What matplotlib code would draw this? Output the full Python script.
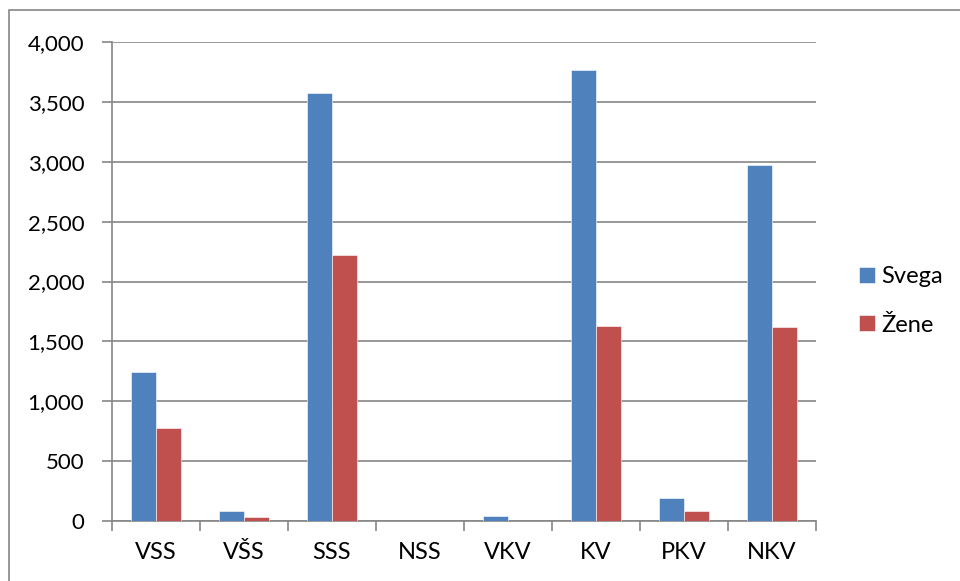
import numpy as np
import matplotlib.pyplot as plt
from matplotlib.patches import Rectangle
from matplotlib.ticker import FuncFormatter

plt.rcParams['font.family'] = ['Lato', 'DejaVu Sans']

categories = ['VSS', 'VŠS', 'SSS', 'NSS', 'VKV', 'KV', 'PKV', 'NKV']
svega = [1245, 80, 3575, 0, 45, 3770, 190, 2975]
zene = [775, 35, 2220, 0, 0, 1625, 85, 1620]

blue = '#4F81BD'
red = '#C0504D'
gray = '#868686'

fig = plt.figure(figsize=(9.6, 5.81), dpi=100)
fig.patches.append(Rectangle((9 / 960, -0.01), 1.0, 1 - 10 / 581 + 0.01, transform=fig.transFigure,
                             fill=False, edgecolor=gray, linewidth=1.2))
ax = fig.add_axes([112 / 960, 1 - 521 / 581, (816 - 112) / 960, (521 - 42) / 581])

x = np.arange(len(categories))
w = 0.285
ax.bar(x - w / 2, svega, w, color=blue, label='Svega', edgecolor='white', linewidth=0.4, zorder=3)
ax.bar(x + w / 2, zene, w, color=red, label='Žene', edgecolor='white', linewidth=0.4, zorder=3)

ax.set_xlim(-0.5, len(categories) - 0.5)
ax.set_ylim(0, 4000)
ax.set_yticks(np.arange(0, 4001, 500))
ax.yaxis.set_major_formatter(FuncFormatter(lambda v, p: f'{int(v):,}'))
ax.set_xticks(x)
ax.set_xticklabels(categories)
ax.set_xticks(np.arange(-0.5, len(categories), 1), minor=True)
ax.tick_params(axis='x', which='major', length=0, pad=15, labelsize=17)
ax.tick_params(axis='x', which='minor', length=7, color=gray, width=1.2)
ax.tick_params(axis='y', length=7, color=gray, width=1.2, labelsize=16, pad=13)

ax.grid(axis='y', color=gray, linewidth=1.2, zorder=0)
for s in ['top', 'right']:
    ax.spines[s].set_visible(False)
for s in ['left', 'bottom']:
    ax.spines[s].set_color(gray)
    ax.spines[s].set_linewidth(1.2)

fig.legend(loc='center left', bbox_to_anchor=(838 / 960, 1 - 301 / 581), frameon=False,
           fontsize=17, handlelength=0.65, handleheight=0.65, labelspacing=1.15, handletextpad=0.3)

fig.savefig('out.png', dpi=100)
